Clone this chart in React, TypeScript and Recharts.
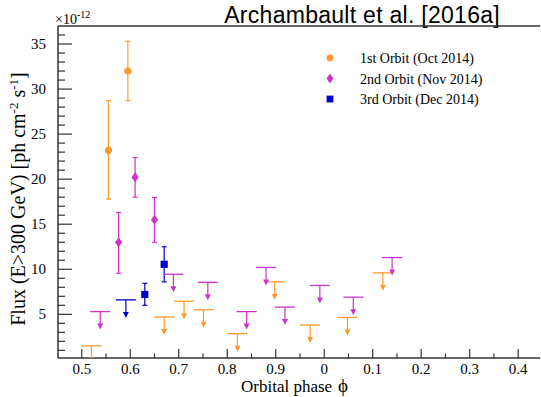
import React from 'react';
import { ComposedChart, Scatter, XAxis, YAxis, ErrorBar, ReferenceLine } from 'recharts';

// flux values in units of 1e-12 ph cm^-2 s^-1, phase > 1 means next cycle (label shows phase - 1)
const orbit1Phase = [0.555, 0.595];
const orbit1Flux = [23.2, 32.0];
const orbit1ErrLow = [5.4, 3.3];
const orbit1ErrHigh = [5.5, 3.3];

const orbit2Phase = [0.576, 0.61, 0.65];
const orbit2Flux = [13.0, 20.2, 15.5];
const orbit2ErrLow = [3.45, 2.2, 2.5];
const orbit2ErrHigh = [3.3, 2.2, 2.45];

const orbit3Phase = [0.63, 0.67];
const orbit3Flux = [7.2, 10.55];
const orbit3ErrLow = [1.2, 1.95];
const orbit3ErrHigh = [1.25, 1.95];

const orbit1UlPhase = [0.52, 0.67, 0.711, 0.751, 0.821, 0.898, 0.971, 1.048, 1.121];
const orbit1UlFlux = [1.5, 4.7, 6.45, 5.5, 2.85, 8.6, 3.8, 4.65, 9.6];

const orbit2UlPhase = [0.538, 0.689, 0.76, 0.84, 0.88, 0.919, 0.991, 1.06, 1.14];
const orbit2UlFlux = [5.3, 9.45, 8.55, 5.3, 10.2, 5.8, 8.2, 6.9, 11.3];

const orbit3UlPhase = [0.591];
const orbit3UlFlux = [6.6];

const xMajorTicks = [0.5, 0.6, 0.7, 0.8, 0.9, 1.0, 1.1, 1.2, 1.3, 1.4];
const xMinorTicks = [0.55, 0.65, 0.75, 0.85, 0.95, 1.05, 1.15, 1.25, 1.35];
const yMajorTicks = [5, 10, 15, 20, 25, 30, 35];
const yMinorTicks = [1, 2, 3, 4, 6, 7, 8, 9, 11, 12, 13, 14, 16, 17, 18, 19, 21, 22, 23, 24, 26, 27, 28, 29, 31, 32, 33, 34, 36];

const ORANGE = '#ff9a33';
const MAGENTA = '#cc33cc';
const BLUE = '#0000cc';
const AXIS = '#333';
const SERIF = '"Liberation Serif", "DejaVu Serif", serif';
const SANS = '"Liberation Sans", Arial, sans-serif';

const points = (phase: number[], flux: number[], lo?: number[], hi?: number[]) =>
  phase.map((x, i) => ({ x, y: flux[i], err: lo && hi ? [lo[i], hi[i]] : 0 }));

const isMajor = (list: number[], v: number) => list.some((t) => Math.abs(t - v) < 1e-6);

const phaseLabel = (v: number) => {
  const p = v >= 0.999 ? v - 1 : v;
  return Math.abs(p) < 1e-6 ? '0' : p.toFixed(1);
};

const serifStyle = (size: number) => ({ fontFamily: SERIF, fontSize: size });

const XTick = (props: any) => {
  const { x, y, payload } = props;
  const major = isMajor(xMajorTicks, payload.value);
  return (
    <g>
      <line x1={x} x2={x} y1={y} y2={y - (major ? 9 : 4.5)} stroke={AXIS} strokeWidth={1.2} />
      {major && (
        <text x={x} y={y + 16} textAnchor="middle" style={serifStyle(15)} fill="#000">
          {phaseLabel(payload.value)}
        </text>
      )}
    </g>
  );
};

const YTick = (props: any) => {
  const { x, y, payload } = props;
  const major = isMajor(yMajorTicks, payload.value);
  return (
    <g>
      <line x1={x} x2={x + (major ? 14 : 7)} y1={y} y2={y} stroke={AXIS} strokeWidth={1.2} />
      {major && (
        <text x={x - 12} y={y + 5} textAnchor="end" style={serifStyle(15)} fill="#000">
          {payload.value}
        </text>
      )}
    </g>
  );
};

const upperLimit = (color: string) => (props: any) => {
  const { cx, cy } = props;
  return (
    <g>
      <line x1={cx - 10} x2={cx + 10} y1={cy} y2={cy} stroke={color} strokeWidth={1.3} />
      <line x1={cx} x2={cx} y1={cy} y2={cy + 13} stroke={color} strokeWidth={1.2} />
      <path d={`M${cx - 3},${cy + 12} L${cx + 3},${cy + 12} L${cx},${cy + 18} Z`} fill={color} />
    </g>
  );
};

const circle = (props: any) => <circle cx={props.cx} cy={props.cy} r={3.6} fill={ORANGE} />;
const diamond = (props: any) => {
  const { cx, cy } = props;
  return <path d={`M${cx},${cy - 5} L${cx + 3.6},${cy} L${cx},${cy + 5} L${cx - 3.6},${cy} Z`} fill={MAGENTA} />;
};
const square = (props: any) => <rect x={props.cx - 3.6} y={props.cy - 3.6} width={7.2} height={7.2} fill={BLUE} />;

const legendItems = [
  { label: '1st Orbit (Oct 2014)', shape: 'circle' },
  { label: '2nd Orbit (Nov 2014)', shape: 'diamond' },
  { label: '3rd Orbit (Dec 2014)', shape: 'square' },
];

const LegendBox = () => (
  <g>
    {legendItems.map((it, i) => {
      const cy = 58 + i * 20.5;
      return (
        <g key={it.label}>
          {it.shape === 'circle' && <circle cx={330} cy={cy} r={3.4} fill={ORANGE} />}
          {it.shape === 'diamond' && <path d={`M330,${cy - 5} L333.4,${cy} L330,${cy + 5} L326.6,${cy} Z`} fill={MAGENTA} />}
          {it.shape === 'square' && <rect x={326.6} y={cy - 3.4} width={6.8} height={6.8} fill={BLUE} />}
          <text x={360} y={cy + 5} style={serifStyle(14)} fill="#000">{it.label}</text>
        </g>
      );
    })}
  </g>
);

export default function App() {
  return (
    <div style={{ position: 'absolute', left: 0, top: 0, width: 541, height: 397, background: '#fff' }}>
      <ComposedChart width={541} height={397} margin={{ top: 26, right: 1, bottom: 0, left: 0 }}>
        <XAxis
          type="number"
          dataKey="x"
          domain={[0.451, 1.445]}
          ticks={[...xMajorTicks, ...xMinorTicks]}
          interval={0}
          tick={<XTick />}
          tickLine={false}
          tickSize={0}
          tickMargin={0}
          height={39}
          axisLine={{ stroke: AXIS, strokeWidth: 1.5 }}
          allowDataOverflow
        />
        <YAxis
          type="number"
          dataKey="y"
          domain={[0.15, 37]}
          ticks={[...yMajorTicks, ...yMinorTicks]}
          interval={0}
          tick={<YTick />}
          tickLine={false}
          tickSize={0}
          tickMargin={0}
          width={58}
          axisLine={{ stroke: AXIS, strokeWidth: 1.5 }}
          allowDataOverflow
        />
        <ReferenceLine y={37} stroke={AXIS} strokeWidth={1.5} />

        <Scatter data={points(orbit1UlPhase, orbit1UlFlux)} shape={upperLimit(ORANGE)} isAnimationActive={false} legendType="none" />
        <Scatter data={points(orbit2UlPhase, orbit2UlFlux)} shape={upperLimit(MAGENTA)} isAnimationActive={false} legendType="none" />
        <Scatter data={points(orbit3UlPhase, orbit3UlFlux)} shape={upperLimit(BLUE)} isAnimationActive={false} legendType="none" />

        <Scatter data={points(orbit1Phase, orbit1Flux, orbit1ErrLow, orbit1ErrHigh)} shape={circle} isAnimationActive={false}>
          <ErrorBar dataKey="err" direction="y" width={2.5} stroke={ORANGE} strokeWidth={1.2} isAnimationActive={false} />
        </Scatter>
        <Scatter data={points(orbit2Phase, orbit2Flux, orbit2ErrLow, orbit2ErrHigh)} shape={diamond} isAnimationActive={false}>
          <ErrorBar dataKey="err" direction="y" width={2.5} stroke={MAGENTA} strokeWidth={1.2} isAnimationActive={false} />
        </Scatter>
        <Scatter data={points(orbit3Phase, orbit3Flux, orbit3ErrLow, orbit3ErrHigh)} shape={square} isAnimationActive={false}>
          <ErrorBar dataKey="err" direction="y" width={2.5} stroke={BLUE} strokeWidth={1.2} isAnimationActive={false} />
        </Scatter>

        <LegendBox />
        <text x={500} y={23} textAnchor="end" style={{ fontFamily: SANS, fontSize: 23, letterSpacing: 0.28 }} fill="#000">
          Archambault et al. [2016a]
        </text>
        <text x={55} y={23.5} style={serifStyle(14)} fill="#000">
          ×10<tspan dy={-6} fontSize={10}>-12</tspan>
        </text>
        <text x={241} y={392} style={serifStyle(17)} fill="#000">
          Orbital phase<tspan dx={6} fontSize={19}>ϕ</tspan>
        </text>
        <text x={25} y={199} transform="rotate(-90 25 199)" textAnchor="middle" style={serifStyle(20)} fill="#000">
          Flux (E&gt;300 GeV) [ph cm<tspan dy={-7} fontSize={13}>-2</tspan>
          <tspan dy={7}> s</tspan>
          <tspan dy={-7} fontSize={13}>-1</tspan>
          <tspan dy={7}>]</tspan>
        </text>
      </ComposedChart>
    </div>
  );
}
